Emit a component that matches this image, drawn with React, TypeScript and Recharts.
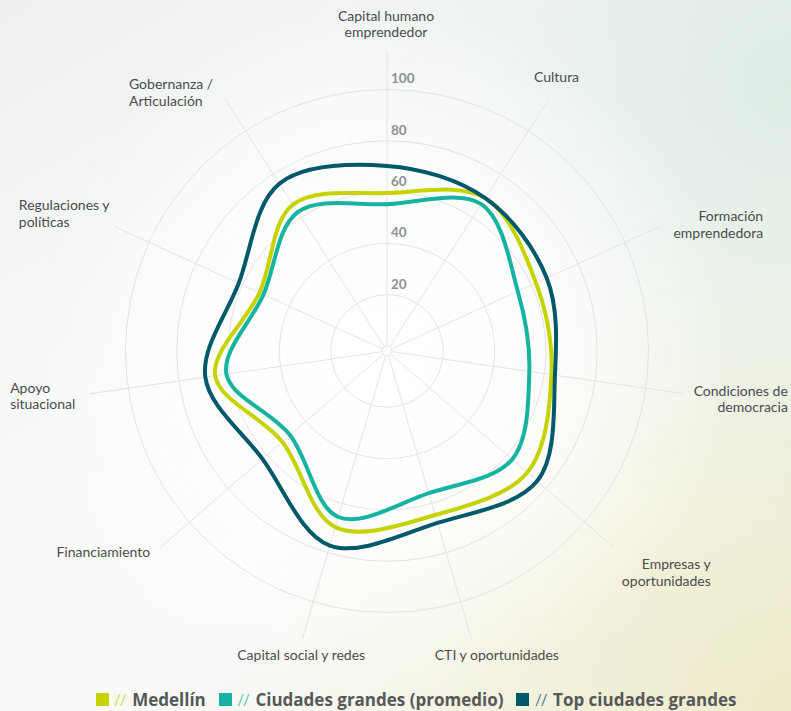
import React from "react";
import { Legend, PolarAngleAxis, PolarGrid, PolarRadiusAxis, Radar, RadarChart } from "recharts";

const CATEGORIES = [
  "Capital humano\nemprendedor",
  "Cultura",
  "Formación\nemprendedora",
  "Condiciones de\ndemocracia",
  "Empresas y\noportunidades",
  "CTI y oportunidades",
  "Capital social y redes",
  "Financiamiento",
  "Apoyo\nsituacional",
  "Regulaciones y\npolíticas",
  "Gobernanza /\nArticulación",
];

const MEDELLIN = [59.6, 68.9, 61.9, 62.8, 70.4, 64.7, 69.6, 52.1, 65.7, 52.7, 65.9];
const CIUDADES_GRANDES = [55.3, 66.1, 54.1, 54.1, 62.6, 55.8, 65.5, 48.1, 61.3, 51.0, 62.4];
const TOP_CIUDADES = [70.2, 68.9, 66.5, 64.2, 75.5, 67.9, 77.1, 62.3, 69.6, 61.6, 75.6];

const RADIUS_TICKS = [0, 20, 40, 60, 80, 100];

const SERIES_NAMES = ["Medellín", "Ciudades grandes (promedio)", "Top ciudades grandes"];

const COLORS = {
  medellin: "#c6d300",
  ciudades: "#17b3a1",
  top: "#00596b",
};

const FONT = "Lato, 'Noto Sans', sans-serif";

// where each axis label sits relative to the tick point recharts gives us
const LABEL_LAYOUT = [
  { anchor: "middle", dx: -1, dy: -22.5 },
  { anchor: "middle", dx: 3, dy: -9.5 },
  { anchor: "end", dx: 96, dy: -1.6 },
  { anchor: "end", dx: 96, dy: 0.7 },
  { anchor: "end", dx: 91, dy: 16.8 },
  { anchor: "start", dx: -39, dy: 13 },
  { anchor: "middle", dx: 1, dy: 13 },
  { anchor: "end", dx: -4, dy: 4.8 },
  { anchor: "start", dx: -72, dy: -2.3 },
  { anchor: "start", dx: -88, dy: -12.6 },
  { anchor: "start", dx: -91.5, dy: -2.4 },
];

const data = CATEGORIES.map((name, i) => ({
  name,
  medellin: MEDELLIN[i],
  ciudades: CIUDADES_GRANDES[i],
  top: TOP_CIUDADES[i],
}));

function closedSpline(pts: { x: number; y: number }[]) {
  const n = pts.length;
  if (!n) return "";
  let d = `M${pts[0].x},${pts[0].y}`;
  for (let i = 0; i < n; i++) {
    const p0 = pts[(i - 1 + n) % n];
    const p1 = pts[i];
    const p2 = pts[(i + 1) % n];
    const p3 = pts[(i + 2) % n];
    const c1x = p1.x + (p2.x - p0.x) / 6;
    const c1y = p1.y + (p2.y - p0.y) / 6;
    const c2x = p2.x - (p3.x - p1.x) / 6;
    const c2y = p2.y - (p3.y - p1.y) / 6;
    d += ` C${c1x},${c1y} ${c2x},${c2y} ${p2.x},${p2.y}`;
  }
  return d + " Z";
}

const smoothShape = (color: string) => (props: any) => (
  <path
    d={closedSpline(props.points || [])}
    fill="none"
    stroke={color}
    strokeWidth={4}
    strokeLinejoin="round"
  />
);

function AngleTick(props: any) {
  const { x, y, payload, index } = props;
  const layout = LABEL_LAYOUT[index] ?? { anchor: "middle", dx: 0, dy: 0 };
  const lines = String(payload.value).split("\n");
  return (
    <text
      x={x + layout.dx}
      y={y + layout.dy}
      textAnchor={layout.anchor}
      fill="#4a4d4d"
      fontSize={14}
      fontFamily={FONT}
    >
      {lines.map((line, i) => (
        <tspan key={i} x={x + layout.dx} dy={i === 0 ? 0 : 16.5}>
          {line}
        </tspan>
      ))}
    </text>
  );
}

function RadiusTick(props: any) {
  const { x, y, payload } = props;
  if (payload.value === 0) return null;
  return (
    <text x={x + 4} y={y - 6} textAnchor="start" fill="#8e9090" fontSize={13.5} fontWeight={700} fontFamily={FONT}>
      {payload.value}
    </text>
  );
}

function LegendContent(props: any) {
  const items = [...(props.payload || [])].sort(
    (a: any, b: any) => SERIES_NAMES.indexOf(a.value) - SERIES_NAMES.indexOf(b.value)
  );
  return (
    <div
      style={{
        display: "flex",
        justifyContent: "center",
        alignItems: "center",
        paddingLeft: 54,
        height: 24,
        fontFamily: "'Open Sans', sans-serif",
      }}
    >
      {items.map((item: any) => (
        <div key={item.value} style={{ display: "flex", alignItems: "center", marginRight: 13 }}>
          <span style={{ width: 13, height: 13, background: item.color, display: "inline-block" }} />
          <span style={{ color: item.color, fontSize: 17, fontWeight: 300, margin: "0 6px 0 6px" }}>//</span>
          <span style={{ color: "#555959", fontSize: 17, fontWeight: 700 }}>{item.value}</span>
        </div>
      ))}
    </div>
  );
}

export default function App() {
  return (
    <div
      style={{
        position: "fixed",
        left: 0,
        top: 0,
        width: 791,
        height: 711,
        background:
          "radial-gradient(circle at 48% 50%, rgba(255,255,255,1) 0%, rgba(255,255,255,0.7) 35%, rgba(255,255,255,0) 65%)," +
          "radial-gradient(circle at 100% 12%, rgba(214,232,222,0.75) 0%, rgba(214,232,222,0) 45%)," +
          "radial-gradient(circle at 100% 100%, rgba(238,234,196,0.85) 0%, rgba(238,234,196,0) 50%)," +
          "linear-gradient(150deg, #eef0f0 0%, #f7f8f8 35%, #fafbf9 60%, #f3f4ec 100%)",
      }}
    >
      <RadarChart
        width={791}
        height={711}
        data={data}
        cx={387}
        cy={351}
        innerRadius={5}
        outerRadius={300}
        margin={{ top: 0, right: 0, bottom: 0, left: 0 }}
      >
        <PolarGrid gridType="circle" stroke="#e3e4e4" strokeWidth={1} />
        <PolarAngleAxis dataKey="name" tick={<AngleTick />} tickLine={false} axisLine={false} />
        <PolarRadiusAxis
          angle={90}
          domain={[0, 114.8]}
          ticks={RADIUS_TICKS}
          tick={<RadiusTick />}
          axisLine={false}
        />
        <Radar
          name={SERIES_NAMES[0]}
          dataKey="medellin"
          stroke={COLORS.medellin}
          fill="none"
          shape={smoothShape(COLORS.medellin)}
          isAnimationActive={false}
        />
        <Radar
          name={SERIES_NAMES[1]}
          dataKey="ciudades"
          stroke={COLORS.ciudades}
          fill="none"
          shape={smoothShape(COLORS.ciudades)}
          isAnimationActive={false}
        />
        <Radar
          name={SERIES_NAMES[2]}
          dataKey="top"
          stroke={COLORS.top}
          fill="none"
          shape={smoothShape(COLORS.top)}
          isAnimationActive={false}
        />
        <Legend verticalAlign="bottom" content={<LegendContent />} />
      </RadarChart>
    </div>
  );
}
